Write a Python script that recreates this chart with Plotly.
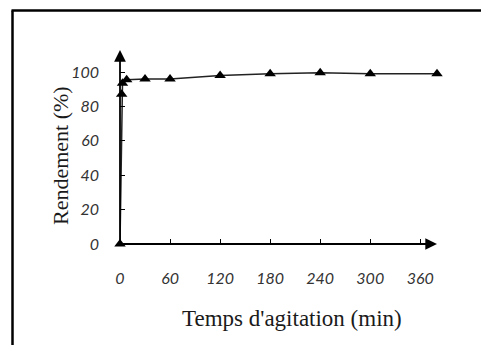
import plotly.graph_objects as go

# Data
temps_min = [0, 2, 3, 8, 30, 60, 120, 180, 240, 300, 380]
rendement = [0, 87, 93.5, 95.5, 96, 96, 98, 99, 99.5, 99, 99]
x_ticks = [0, 60, 120, 180, 240, 300, 360]
y_ticks = [0, 20, 40, 60, 80, 100]
x_title = "Temps d'agitation (min)"
y_title = "Rendement (%)"

W, H = 481, 345
L, R, T, B = 120, 44, 50, 101
PW, PH = W - L - R, H - T - B
X_MAX, Y_MAX = 380, 112.8

def px2paper_x(px):
    return (px - L) / PW

def px2paper_y(py):
    return 1 - (py - T) / PH

fig = go.Figure()
fig.add_trace(go.Scatter(
    x=temps_min, y=rendement, mode="lines+markers",
    line=dict(color="#222222", width=1.5),
    marker=dict(symbol="triangle-up", size=10, color="black"),
    cliponaxis=False, showlegend=False, hoverinfo="skip",
))

tickfont = dict(family="Lato, DejaVu Sans, sans-serif", size=16, color="#333333", style="italic")

fig.update_layout(
    width=W, height=H,
    margin=dict(l=L, r=R, t=T, b=B),
    paper_bgcolor="white", plot_bgcolor="white",
    xaxis=dict(range=[0, X_MAX], tickvals=x_ticks, ticktext=[str(v) for v in x_ticks],
               ticks="inside", ticklen=5, tickcolor="black", tickwidth=1,
               showgrid=False, zeroline=False, showline=False,
               tickfont=tickfont, ticklabelstandoff=23),
    yaxis=dict(range=[0, Y_MAX], tickvals=y_ticks, ticktext=[str(v) for v in y_ticks],
               ticks="inside", ticklen=5, tickcolor="black", tickwidth=1,
               showgrid=False, zeroline=False, showline=False,
               tickfont=tickfont, ticklabelstandoff=20),
)

# Axis arrows
fig.add_annotation(x=X_MAX, y=0, ax=0, ay=0, xref="x", yref="y", axref="x", ayref="y",
                   showarrow=True, arrowhead=2, arrowsize=1.3, arrowwidth=1.8,
                   arrowcolor="black", text="")
fig.add_annotation(x=0, y=Y_MAX, ax=0, ay=0, xref="x", yref="y", axref="x", ayref="y",
                   showarrow=True, arrowhead=2, arrowsize=1.3, arrowwidth=1.8,
                   arrowcolor="black", text="")

# Axis titles
titlefont = dict(family="Liberation Serif, Times New Roman, serif", size=22, color="#1a1a1a")
fig.add_annotation(text=y_title, textangle=-90, xref="paper", yref="paper",
                   x=px2paper_x(60), y=px2paper_y(156), xanchor="center", yanchor="middle",
                   showarrow=False, font=titlefont)
fig.add_annotation(text=x_title, xref="paper", yref="paper",
                   x=px2paper_x(292), y=px2paper_y(318), xanchor="center", yanchor="middle",
                   showarrow=False, font=dict(titlefont, size=23))

# Frame: left and top edges only
frame = dict(color="black", width=2.5)
fig.add_shape(type="line", xref="paper", yref="paper",
              x0=px2paper_x(12.5), x1=px2paper_x(12.5),
              y0=px2paper_y(H), y1=px2paper_y(10.5), line=frame, layer="below")
fig.add_shape(type="line", xref="paper", yref="paper",
              x0=px2paper_x(11.5), x1=px2paper_x(W),
              y0=px2paper_y(10.5), y1=px2paper_y(10.5), line=frame, layer="below")

fig.write_html("out.html", config={"displayModeBar": False, "staticPlot": True},
               post_script="document.documentElement.style.overflow='hidden';"
                           "document.body.style.margin='0';document.body.style.overflow='hidden';")
